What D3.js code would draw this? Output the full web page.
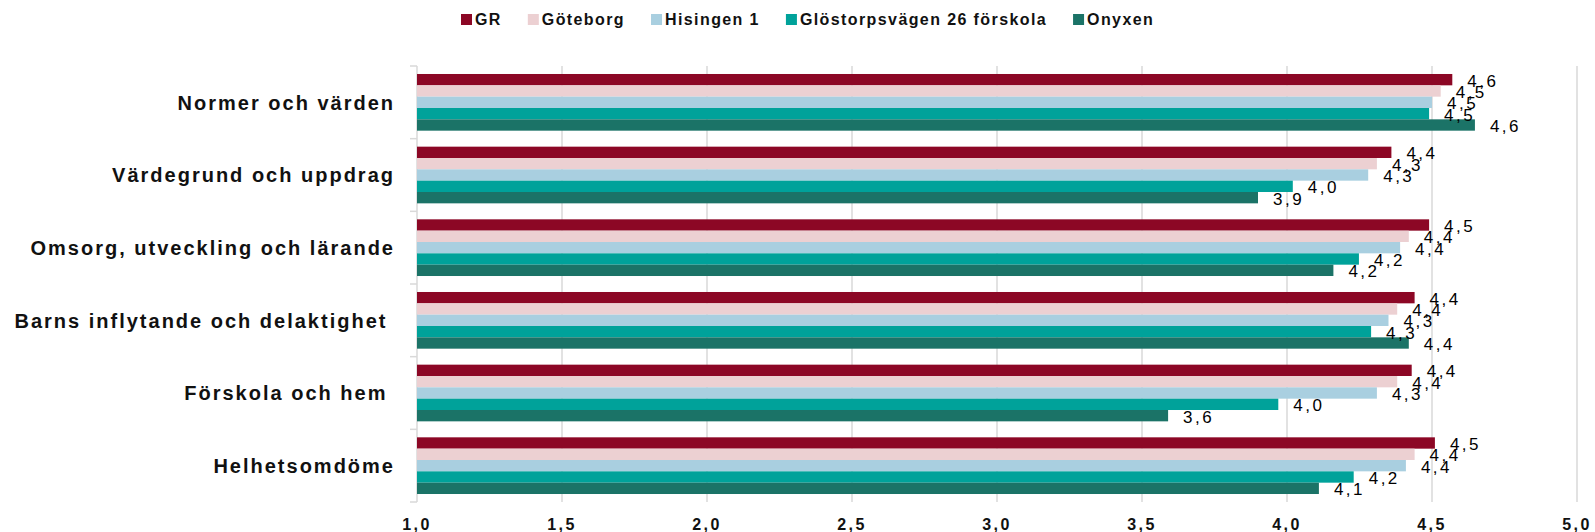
<!DOCTYPE html>
<html>
<head>
<meta charset="utf-8">
<script src="https://cdn.jsdelivr.net/npm/d3@7"></script>
<style>
  body { margin: 0; background: #fff; }
  svg { display: block; font-family: "Liberation Sans", Arial, sans-serif; }
  text { white-space: pre; }
</style>
</head>
<body>
<svg width="1595" height="532"></svg>
<script>
// categories (top to bottom) – trailing spaces kept as in the source
const categories = [
    "Normer och värden",
    "Värdegrund och uppdrag",
    "Omsorg, utveckling och lärande",
    "Barns inflytande och delaktighet ",
    "Förskola och hem ",
    "Helhetsomdöme"
];

const seriesNames = ["GR", "Göteborg", "Hisingen 1", "Glöstorpsvägen 26 förskola", "Onyxen"];
const seriesColors = ["#8c0725", "#ecd0d2", "#a9cfe0", "#00a29a", "#1b7367"];

// values per series, in category order
const grValues       = [4.57, 4.36, 4.49, 4.44, 4.43, 4.51];
const goteborgValues = [4.53, 4.31, 4.42, 4.38, 4.38, 4.44];
const hisingenValues = [4.50, 4.28, 4.39, 4.35, 4.31, 4.41];
const glostorpValues = [4.49, 4.02, 4.248, 4.29, 3.97, 4.23];
const onyxenValues   = [4.648, 3.90, 4.16, 4.42, 3.59, 4.11];

const xTicks = [1.0, 1.5, 2.0, 2.5, 3.0, 3.5, 4.0, 4.5, 5.0];

const allValues = [grValues, goteborgValues, hisingenValues, glostorpValues, onyxenValues];

const svg = d3.select("svg");
const fmt = v => v.toFixed(1).replace(".", ",");

// scales
const x = d3.scaleLinear().domain([1, 5]).range([417, 1577]);
const y = d3.scaleBand().domain(categories).range([66, 502])
    .paddingInner(0.22).paddingOuter(0.11);
const ySub = d3.scaleBand().domain(seriesNames).range([0, y.bandwidth()]);

// gridlines
svg.append("g")
    .selectAll("line")
    .data(xTicks.slice(1))
    .enter()
    .append("line")
    .attr("x1", d => x(d)).attr("x2", d => x(d))
    .attr("y1", 66).attr("y2", 502)
    .attr("stroke", "#d9d9d9")
    .attr("stroke-width", 1.5);

// left axis line and category ticks
const step = y.step();
svg.append("line")
    .attr("x1", x(1)).attr("x2", x(1))
    .attr("y1", 66).attr("y2", 502)
    .attr("stroke", "#d9d9d9")
    .attr("stroke-width", 1.5);

svg.append("g")
    .selectAll("line")
    .data(d3.range(categories.length + 1))
    .enter()
    .append("line")
    .attr("x1", x(1) - 7).attr("x2", x(1))
    .attr("y1", i => 66 + i * step).attr("y2", i => 66 + i * step)
    .attr("stroke", "#d9d9d9")
    .attr("stroke-width", 1.5);

// bars
const groups = svg.append("g")
    .selectAll("g")
    .data(categories)
    .enter()
    .append("g")
    .attr("transform", d => `translate(0,${y(d)})`);

const barData = (c, ci) => seriesNames.map((s, si) => ({ s, si, v: allValues[si][ci] }));

groups.each(function (c, ci) {
    const g = d3.select(this);
    const rows = barData(c, ci);

    g.selectAll("rect")
        .data(rows)
        .enter()
        .append("rect")
        .attr("x", x(1))
        .attr("y", d => ySub(d.s))
        .attr("width", d => x(d.v) - x(1))
        .attr("height", ySub.bandwidth())
        .attr("fill", d => seriesColors[d.si]);

    g.selectAll("text")
        .data(rows)
        .enter()
        .append("text")
        .attr("x", d => x(d.v) + 15)
        .attr("y", d => ySub(d.s) + ySub.bandwidth() / 2 + 1)
        .attr("dy", "0.35em")
        .attr("font-size", 17)
        .attr("letter-spacing", 2.5)
        .attr("fill", "#000")
        .text(d => fmt(d.v));
});

// category labels
svg.append("g")
    .selectAll("text")
    .data(categories)
    .enter()
    .append("text")
    .attr("x", 395)
    .attr("y", d => y(d) + y.bandwidth() / 2)
    .attr("dy", "0.36em")
    .attr("text-anchor", "end")
    .attr("font-size", 20)
    .attr("font-weight", "bold")
    .attr("letter-spacing", 2)
    .attr("fill", "#111")
    .text(d => d);

// x tick labels
svg.append("g")
    .selectAll("text")
    .data(xTicks)
    .enter()
    .append("text")
    .attr("x", d => x(d))
    .attr("y", 530)
    .attr("text-anchor", "middle")
    .attr("font-size", 16)
    .attr("font-weight", "bold")
    .attr("letter-spacing", 2.5)
    .attr("fill", "#111")
    .text(d => fmt(d));

// legend
const legend = svg.append("g").attr("transform", "translate(461,0)");
let lx = 0;
seriesNames.forEach((name, i) => {
    const item = legend.append("g").attr("transform", `translate(${lx},0)`);
    item.append("rect")
        .attr("x", 0).attr("y", 14)
        .attr("width", 11).attr("height", 11)
        .attr("fill", seriesColors[i]);
    const t = item.append("text")
        .attr("x", 14).attr("y", 25)
        .attr("font-size", 16)
        .attr("font-weight", "bold")
        .attr("letter-spacing", 1.4)
        .attr("fill", "#111")
        .text(name);
    lx += 14 + t.node().getComputedTextLength() + 26;
});
</script>
</body>
</html>
